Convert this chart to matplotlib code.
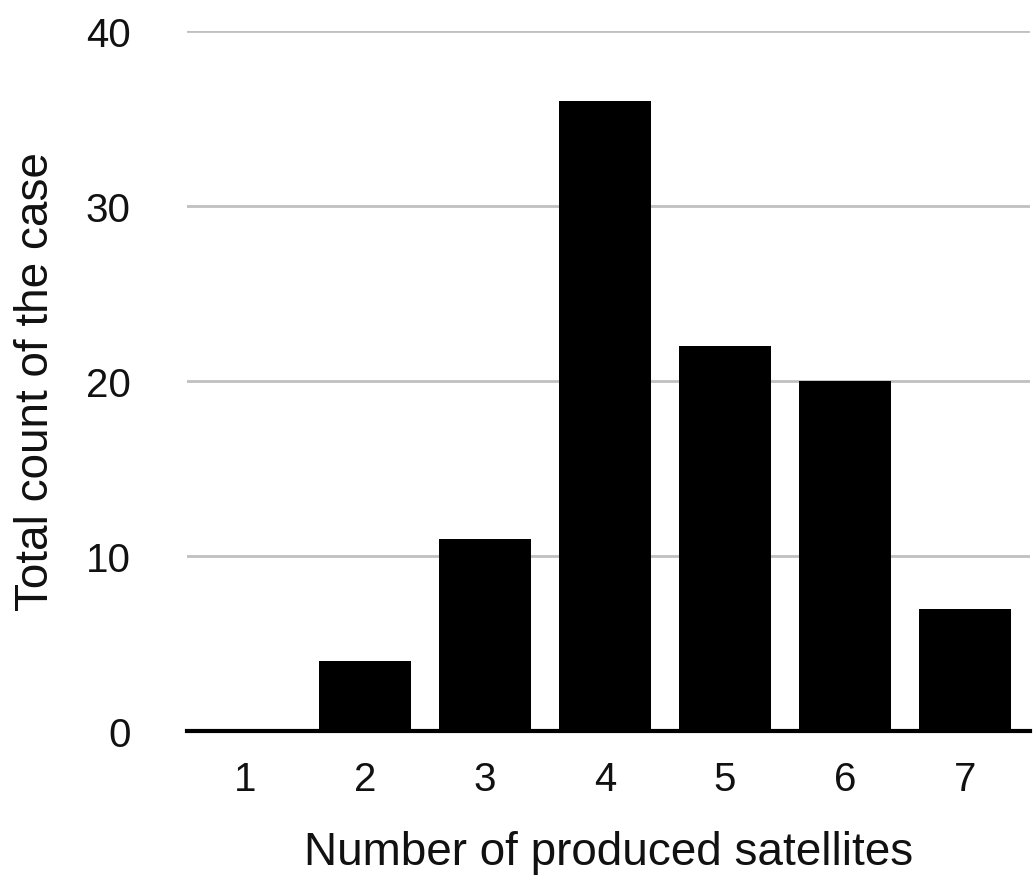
import matplotlib.pyplot as plt

plt.rcParams['font.family'] = ['Liberation Sans', 'DejaVu Sans']

satellites = [1, 2, 3, 4, 5, 6, 7]
counts = [0, 4, 11, 36, 22, 20, 7]
yticks = [0, 10, 20, 30, 40]

fig = plt.figure(figsize=(10.35, 8.79), dpi=100)
ax = fig.add_axes([0.181, 0.167, 0.814, 0.797])

ax.bar(satellites, counts, width=0.76, color='black', zorder=3)

ax.set_xlim(0.52, 7.54)
ax.set_ylim(0, 40)
ax.set_yticks(yticks)
ax.set_xticks(satellites)
ax.yaxis.grid(True, color='#c0c0c0', linewidth=2, zorder=0)
ax.set_axisbelow(True)

for s in ['top', 'right', 'left']:
    ax.spines[s].set_visible(False)
ax.spines['bottom'].set_linewidth(3)
ax.spines['bottom'].set_zorder(4)
ax.tick_params(length=0, labelsize=29, labelcolor='#111111')
ax.tick_params(axis='x', pad=21)
ax.tick_params(axis='y', pad=41)

ax.set_xlabel('Number of produced satellites', fontsize=33, labelpad=23, color='#111111')
ax.set_ylabel('Total count of the case', fontsize=33, labelpad=20, color='#111111')

fig.savefig('out.png', dpi=100)
